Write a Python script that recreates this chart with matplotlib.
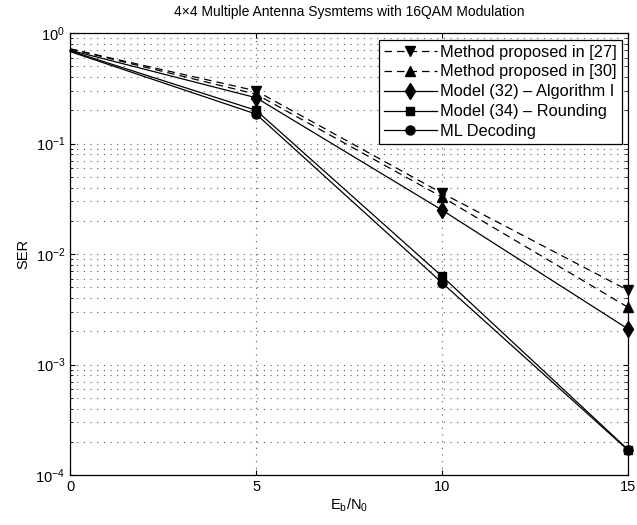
import numpy as np
import matplotlib
matplotlib.use('Agg')
import matplotlib.pyplot as plt

plt.rcParams['font.family'] = ['Liberation Sans', 'DejaVu Sans']

# Eb/N0 points
snr = [0, 5, 10, 15]

# SER curves
ser_27 = [0.72, 0.30, 0.0356, 0.0047]
ser_30 = [0.72, 0.28, 0.0328, 0.0033]
ser_alg1 = [0.70, 0.26, 0.025, 0.0021]
ser_round = [0.69, 0.20, 0.0063, 0.00017]
ser_ml = [0.68, 0.185, 0.0055, 0.000168]

labels = ['Method proposed in [27]', 'Method proposed in [30]',
          'Model (32) \u2013 Algorithm I', 'Model (34) \u2013 Rounding',
          'ML Decoding']

fig = plt.figure(figsize=(6.37, 5.25), dpi=100)
ax = fig.add_axes([0.110, 0.095, 0.876, 0.842])

dash = (0, (6, 4))
mk = [1, 2, 3]  # no markers at 0 dB
ax.semilogy(snr, ser_27, color='k', ls=dash, marker='v', lw=0.9, ms=7,
            markevery=mk, label=labels[0], clip_on=False)
ax.semilogy(snr, ser_30, color='k', ls=dash, marker='^', lw=0.9, ms=7,
            markevery=mk, label=labels[1], clip_on=False)
ax.semilogy(snr, ser_alg1, 'k-d', lw=0.9, ms=8, markevery=mk,
            label=labels[2], clip_on=False)
ax.semilogy(snr, ser_round, 'k-s', lw=0.9, ms=6, markevery=mk,
            label=labels[3], clip_on=False)
ax.semilogy(snr, ser_ml, 'k-o', lw=0.9, ms=6.5, markevery=mk,
            label=labels[4], clip_on=False)

ax.set_xlim(0, 15)
ax.set_ylim(1e-4, 1)
ax.set_xticks([0, 5, 10, 15])
dots = (0, (1, 5))
ax.grid(True, which='major', linestyle=dots, color='0.35', lw=0.8)
ax.grid(True, which='minor', axis='y', linestyle=dots, color='0.35', lw=0.8)
ax.tick_params(which='both', direction='in', top=True, right=True, labelsize=10.5)
for s in ax.spines.values():
    s.set_linewidth(0.9)

ax.set_xlabel('E$_\\mathregular{b}$/N$_\\mathregular{0}$', fontsize=10.5, labelpad=2)
ax.set_ylabel('SER', fontsize=10.5)
ax.set_title('4\u00d74 Multiple Antenna Sysmtems with 16QAM Modulation',
             fontsize=10, pad=12)

leg = ax.legend(loc='upper right', fontsize=11.8, frameon=True, fancybox=False,
                edgecolor='k', framealpha=1, borderaxespad=0.4, handlelength=3.2,
                labelspacing=0.3, borderpad=0.3, handletextpad=0.2)
leg.get_frame().set_linewidth(0.9)

fig.savefig('out.png', dpi=100)
